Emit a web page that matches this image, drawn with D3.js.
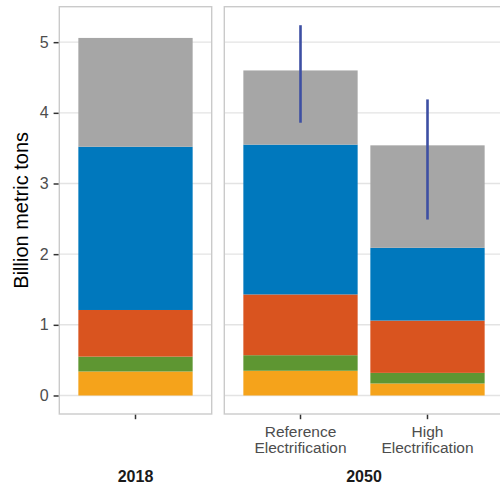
<!DOCTYPE html>
<html>
<head>
<meta charset="utf-8">
<script src="https://cdn.jsdelivr.net/npm/d3@7"></script>
<style>
  html, body { margin: 0; padding: 0; background: #ffffff; }
  svg { display: block; font-family: Arial, "Liberation Sans", sans-serif; }
</style>
</head>
<body>
<svg id="chart" width="500" height="486"></svg>
<script>
// Emissions by scenario, stacked by component (billion metric tons)
const panels = ["2018", "2050"];
const scenarios = ["2018", "Reference Electrification", "High Electrification"];
const scenarioPanel = ["2018", "2050", "2050"];
const scenarioLabelLines = [[], ["Reference", "Electrification"], ["High", "Electrification"]];

// stack layers, bottom to top
const layerKeys = ["yellow", "green", "red", "blue", "grey"];
const layerColors = ["#F5A31B", "#5E9632", "#D9541F", "#0078BD", "#A6A6A6"];
const yellowVals = [0.34, 0.35, 0.17];
const greenVals  = [0.21, 0.22, 0.15];
const redVals    = [0.66, 0.86, 0.74];
const blueVals   = [2.31, 2.12, 1.03];
const greyVals   = [1.54, 1.05, 1.45];

// uncertainty range on the 2050 totals
const rangeLow  = [null, 3.86, 2.49];
const rangeHigh = [null, 5.24, 4.19];

const yTicks = [0, 1, 2, 3, 4, 5];
const yTitle = "Billion metric tons";

const rows = scenarios.map((s, i) => ({
  scenario: s,
  panel: scenarioPanel[i],
  yellow: yellowVals[i],
  green: greenVals[i],
  red: redVals[i],
  blue: blueVals[i],
  grey: greyVals[i],
  lo: rangeLow[i],
  hi: rangeHigh[i]
}));

const stacked = d3.stack().keys(layerKeys)(rows);

// layout
const svg = d3.select("#chart");
const panelTop = 6.7, panelBottom = 414;
const leftX0 = 59.3, leftX1 = 211.7, panelGap = 12.6;
const unit = (leftX1 - leftX0) / 1.2;
const panelBox = {
  "2018": [leftX0, leftX1],
  "2050": [leftX1 + panelGap, leftX1 + panelGap + unit * 2.2]
};

const dataMax = d3.max(rows, r => Math.max(r.hi ?? 0, layerKeys.reduce((a, k) => a + r[k], 0)));
const pad = dataMax * 0.05;
const y = d3.scaleLinear().domain([-pad, dataMax + pad]).range([panelBottom, panelTop]);

const xScales = {};
panels.forEach(p => {
  xScales[p] = d3.scaleBand()
    .domain(scenarios.filter((s, i) => scenarioPanel[i] === p))
    .range(panelBox[p])
    .paddingInner(0.1)
    .paddingOuter(0.15);
});

const gridColor = "#E3E3E3";
const borderColor = "#CACACA";
const tickColor = "#333333";
const labelColor = "#4D4D4D";

panels.forEach(p => {
  const [x0, x1] = panelBox[p];
  const g = svg.append("g");
  const xs = xScales[p];

  // background
  g.append("rect").attr("x", x0).attr("y", panelTop)
    .attr("width", x1 - x0).attr("height", panelBottom - panelTop)
    .attr("fill", "#ffffff");

  // horizontal grid
  g.selectAll("line.grid").data(yTicks).join("line")
    .attr("class", "grid")
    .attr("x1", x0).attr("x2", x1)
    .attr("y1", d => y(d)).attr("y2", d => y(d))
    .attr("stroke", gridColor).attr("stroke-width", 1.4);

  // stacked bars
  stacked.forEach((layer, li) => {
    g.selectAll("rect.l" + li)
      .data(layer.filter(d => d.data.panel === p))
      .join("rect")
      .attr("class", "l" + li)
      .attr("x", d => xs(d.data.scenario))
      .attr("width", xs.bandwidth())
      .attr("y", d => y(d[1]))
      .attr("height", d => y(d[0]) - y(d[1]))
      .attr("fill", layerColors[li]);
  });

  // range lines
  g.selectAll("line.range")
    .data(rows.filter(r => r.panel === p && r.lo != null))
    .join("line")
    .attr("class", "range")
    .attr("x1", d => xs(d.scenario) + xs.bandwidth() / 2)
    .attr("x2", d => xs(d.scenario) + xs.bandwidth() / 2)
    .attr("y1", d => y(d.lo)).attr("y2", d => y(d.hi))
    .attr("stroke", "#3D4FA3").attr("stroke-width", 2.6);

  // panel border
  g.append("rect").attr("x", x0).attr("y", panelTop)
    .attr("width", x1 - x0).attr("height", panelBottom - panelTop)
    .attr("fill", "none").attr("stroke", borderColor).attr("stroke-width", 1.4);

  // x axis ticks
  const xAxis = svg.append("g")
    .attr("transform", `translate(0,${panelBottom + 0.7})`)
    .call(d3.axisBottom(xs).tickSize(4.5).tickFormat(""));
  xAxis.select(".domain").remove();
  xAxis.selectAll(".tick line").attr("stroke", tickColor).attr("stroke-width", 1.5);

  // x tick labels, one text per line
  xs.domain().forEach(s => {
    const idx = scenarios.indexOf(s);
    const cx = xs(s) + xs.bandwidth() / 2;
    scenarioLabelLines[idx].forEach((line, li) => {
      svg.append("text")
        .attr("x", cx).attr("y", 437 + li * 16)
        .attr("text-anchor", "middle")
        .attr("font-size", 15.5).attr("fill", labelColor)
        .text(line);
    });
  });

  // facet label underneath
  svg.append("text")
    .attr("x", (x0 + x1) / 2).attr("y", 482)
    .attr("text-anchor", "middle")
    .attr("font-size", 16).attr("font-weight", "bold")
    .attr("fill", "#1A1A1A")
    .text(p);
});

// y axis on the left panel
const yAxis = svg.append("g")
  .attr("transform", `translate(${leftX0 - 0.7},0)`)
  .call(d3.axisLeft(y).tickValues(yTicks).tickSize(5).tickPadding(5).tickFormat(d3.format("d")));
yAxis.select(".domain").remove();
yAxis.selectAll(".tick line").attr("stroke", tickColor).attr("stroke-width", 1.5);
yAxis.selectAll(".tick text")
  .attr("font-size", 16).attr("fill", labelColor)
  .attr("font-family", "Arial, 'Liberation Sans', sans-serif");

// y axis title
svg.append("text")
  .attr("transform", `translate(28,${(panelTop + panelBottom) / 2}) rotate(-90)`)
  .attr("text-anchor", "middle")
  .attr("font-size", 20).attr("fill", "#000000")
  .text(yTitle);
</script>
</body>
</html>
